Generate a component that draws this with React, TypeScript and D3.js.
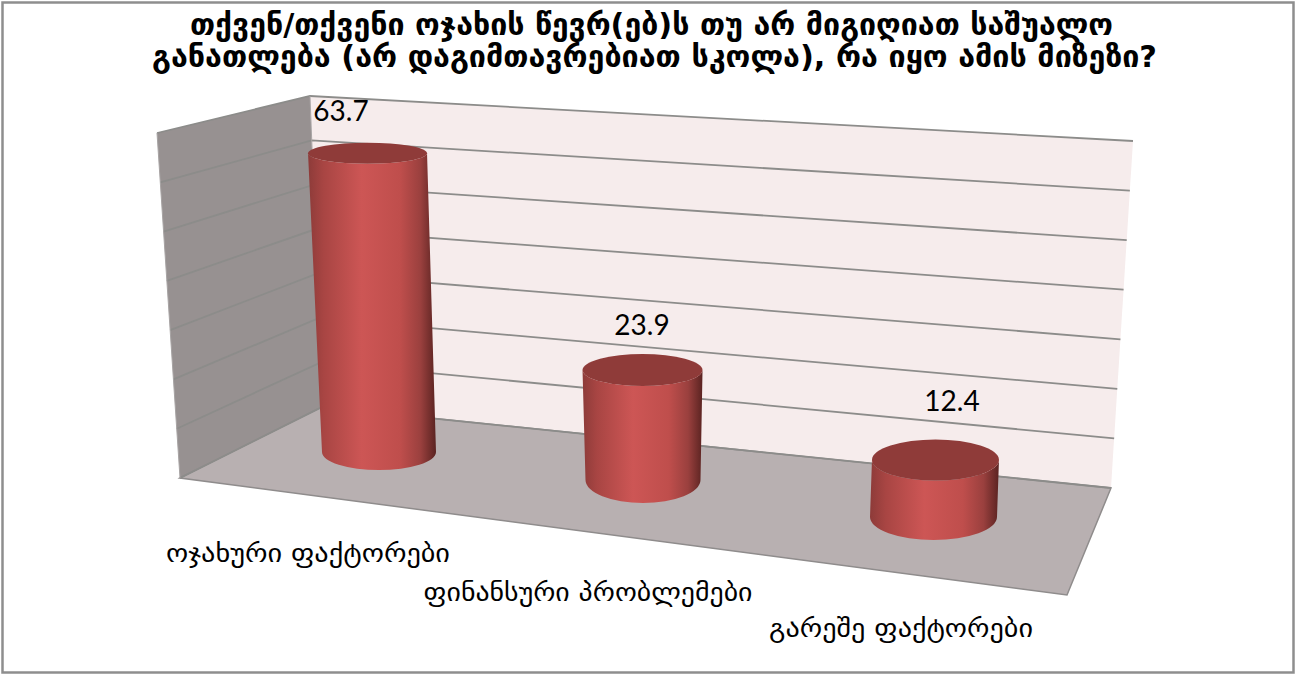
import React from "react";
import * as d3 from "d3";

const titleLines = [
  "თქვენ/თქვენი ოჯახის წევრ(ებ)ს თუ არ მიგიღიათ საშუალო",
  "განათლება (არ დაგიმთავრებიათ სკოლა), რა იყო ამის მიზეზი?",
];
const categories = ["ოჯახური ფაქტორები", "ფინანსური პრობლემები", "გარეშე ფაქტორები"];
const values = [63.7, 23.9, 12.4];
const valueTicks = [0, 10, 20, 30, 40, 50, 60, 70];

const FONT_GE = "'DejaVu Sans', 'Noto Sans', sans-serif";
const FONT_NUM = "Lato, 'Open Sans', sans-serif";

// value -> point on the three vertical wall edges
const t = d3.scaleLinear().domain([0, 70]).range([0, 1]);
const edge = (x0: number, y0: number, x1: number, y1: number) => (v: number): [number, number] => [
  x0 + (x1 - x0) * t(v),
  y0 + (y1 - y0) * t(v),
];
const frontEdge = edge(180, 478, 157, 133);
const backEdge = edge(322, 407, 310, 96);
const rightEdge = edge(1111, 488, 1133, 141);
const floorFront: [number, number] = [1067, 595];

// perspective of the cylinders, by category position
const idx = d3.scaleOrdinal<string, number>().domain(categories).range([0, 1, 2]);
const three = (a: number, b: number, c: number) => d3.scaleLinear().domain([0, 1, 2]).range([a, b, c]);
const baseX = three(379, 643, 933.5);
const baseY = three(452, 480, 517);
const baseRx = three(57, 57.5, 63.5);
const baseRy = three(18, 23, 23);
const topRx = three(59.5, 60, 63.5);
const topRy = three(10.5, 16, 20.5);
const leanPerUnit = three(-0.18, -0.02, 0.16);
const pxPerUnit = three(4.69, 4.6, 4.6);

const labelX = three(308, 588, 901);
const labelY = three(562, 601, 637);
const labelW = three(284, 329, 264);
const dataLabelX = [341, 642, 952];
const dataLabelY = [121, 335, 411];

const poly = (pts: [number, number][]) => pts.map((p) => p.join(",")).join(" ");

export default function App() {
  const line = d3.line();
  return (
    <svg
      width={1296}
      height={675}
      viewBox="0 0 1296 675"
      style={{ position: "absolute", left: 0, top: 0, display: "block", background: "#fff" }}
    >
      <defs>
        <linearGradient id="cyl" x1="0" x2="1" y1="0" y2="0">
          <stop offset="0" stopColor="#8d3b39" />
          <stop offset="0.12" stopColor="#a84543" />
          <stop offset="0.42" stopColor="#cd5655" />
          <stop offset="0.72" stopColor="#bf4e4c" />
          <stop offset="0.88" stopColor="#9a403e" />
          <stop offset="1" stopColor="#5a2321" />
        </linearGradient>
      </defs>
      <rect x={2.5} y={2.5} width={1291} height={670} fill="#fff" stroke="#8e8e8e" strokeWidth={2.5} />

      <polygon points={poly([frontEdge(0), frontEdge(70), backEdge(70), backEdge(0)])} fill="#979191" />
      <polygon points={poly([backEdge(0), backEdge(70), rightEdge(70), rightEdge(0)])} fill="#f6ecec" />
      <polygon
        points={poly([frontEdge(0), backEdge(0), rightEdge(0), floorFront])}
        fill="#b8b0b1"
        stroke="#8f8c8c"
        strokeWidth={1.5}
      />
      {valueTicks.map((v) => (
        <path
          key={v}
          d={line([frontEdge(v), backEdge(v), rightEdge(v)]) as string}
          fill="none"
          stroke="#8c8c8a"
          strokeWidth={1.8}
        />
      ))}
      <path d={line([frontEdge(0), frontEdge(70)]) as string} stroke="#a8a4a4" strokeWidth={1} fill="none" />
      <path d={line([backEdge(0), backEdge(70)]) as string} stroke="#a8a4a4" strokeWidth={1} fill="none" />

      {categories.map((c, k) => {
        const i = idx(c);
        const v = values[k];
        const bx = baseX(i);
        const by = baseY(i);
        const brx = baseRx(i);
        const bry = baseRy(i);
        const tx = bx + leanPerUnit(i) * v;
        const ty = by - pxPerUnit(i) * v;
        const trx = topRx(i);
        const tRy = topRy(i);
        const side = `M${tx - trx},${ty} L${bx - brx},${by} A${brx},${bry} 0 0 0 ${bx + brx},${by} L${tx + trx},${ty} A${trx},${tRy} 0 0 1 ${tx - trx},${ty} Z`;
        return (
          <g key={c}>
            <path d={side} fill="url(#cyl)" />
            <ellipse cx={tx} cy={ty} rx={trx} ry={tRy} fill="#8f3b39" />
          </g>
        );
      })}

      {values.map((v, k) => (
        <text
          key={k}
          x={dataLabelX[k]}
          y={dataLabelY[k]}
          textAnchor="middle"
          fontFamily={FONT_NUM}
          fontSize={28}
          fill="#000"
        >
          {v.toFixed(1)}
        </text>
      ))}

      {titleLines.map((l, k) => (
        <text
          key={k}
          x={k === 0 ? 190 : 152}
          y={k === 0 ? 35 : 67}
          textLength={k === 0 ? 923 : 1005}
          lengthAdjust="spacingAndGlyphs"
          fontFamily={FONT_GE}
          fontSize={30}
          fontWeight={700}
          fill="#000"
        >
          {l}
        </text>
      ))}

      {categories.map((c, k) => (
        <text
          key={c}
          x={labelX(k) - labelW(k) / 2}
          y={labelY(k)}
          textLength={labelW(k)}
          lengthAdjust="spacingAndGlyphs"
          fontFamily={FONT_GE}
          fontSize={25}
          fill="#000"
        >
          {c}
        </text>
      ))}
    </svg>
  );
}
